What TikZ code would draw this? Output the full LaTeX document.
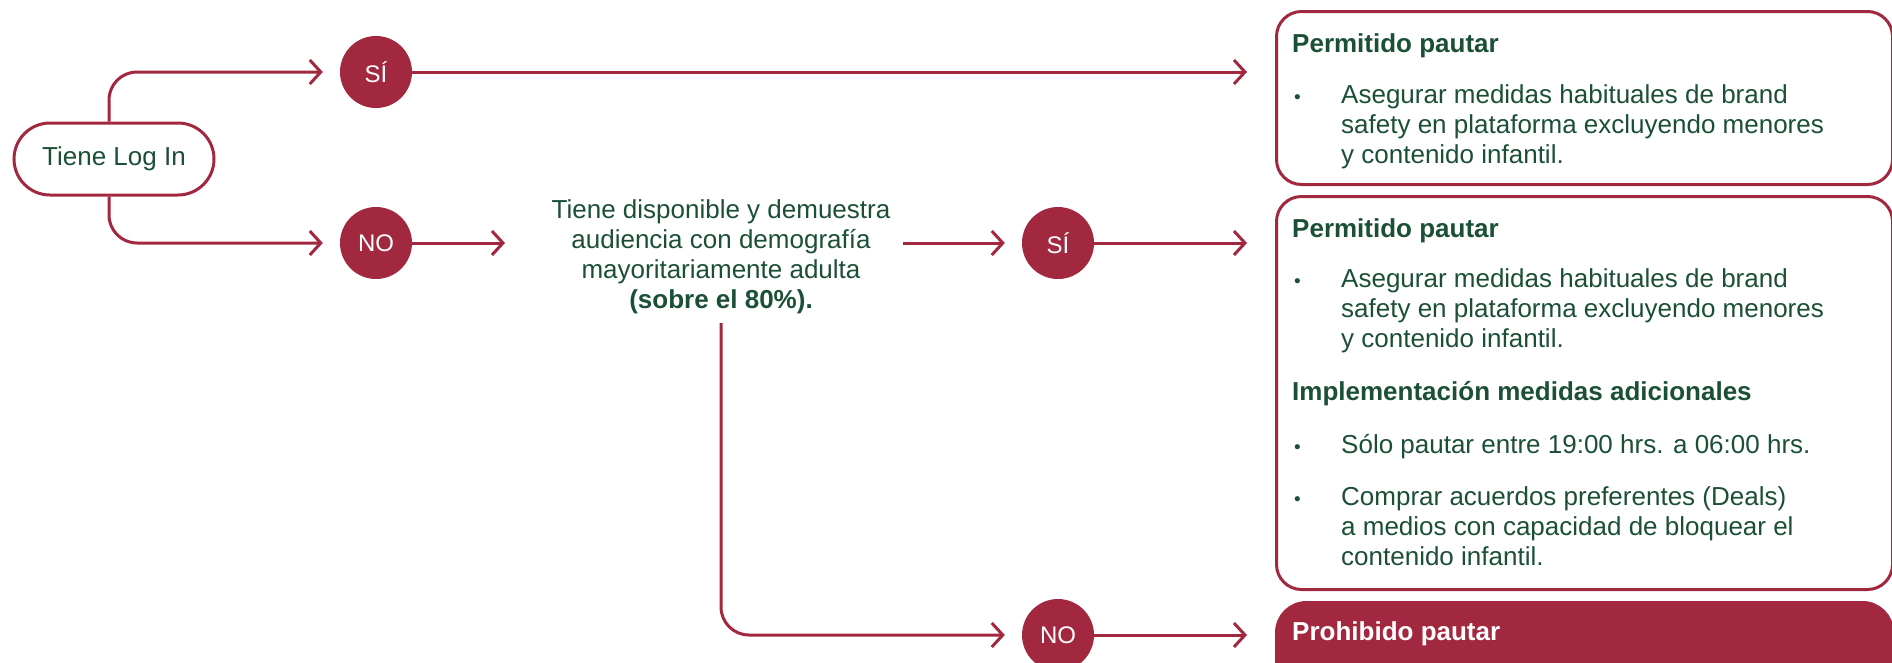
\documentclass[tikz,border=0pt]{standalone}
\usepackage{fontspec}
\setmainfont{Liberation Sans}
\usetikzlibrary{arrows.meta}

\definecolor{vino}{HTML}{A22840}
\definecolor{verde}{HTML}{1B4F36}
\newcommand{\bul}{\makebox[49pt][l]{\hspace*{2pt}{\fontsize{19}{19}\selectfont\textbullet}}}
\newcommand{\ind}{\hspace*{49pt}}

\begin{document}
\begin{tikzpicture}[x=1pt, y=-1pt,
	every node/.style={font=\fontsize{26}{30}\selectfont},
	flow/.style={draw=vino, line width=3pt, -{Straight Barb[length=11pt,width=24pt]}},
	pill/.style={draw=vino, line width=3pt, rounded corners=36pt, minimum width=200pt, minimum height=72pt, text=verde},
	dot/.style={circle, fill=vino, minimum size=72pt, inner sep=0pt, text=white, font=\fontsize{24}{28}\selectfont},
	okbox/.style={draw=vino, line width=3pt, rounded corners=25pt, anchor=north west, minimum width=616pt},
	txt/.style={anchor=base west, align=left, inner sep=0pt, text=verde}]
	\useasboundingbox (0,0) rectangle (1892,662);
	% Nodes
	\node[pill] (login) at (114,159) {Tiene Log In};
	\node[dot] (si1) at (376,72) {SÍ};
	\node[dot] (no1) at (376,243) {NO};
	\node[anchor=base, align=center, inner sep=0pt, text=verde] (ask) at (721,308) {Tiene disponible y demuestra\\audiencia con demografía\\mayoritariamente adulta\\\textbf{(sobre el 80\%).}};
	\node[dot] (si2) at (1058,243) {SÍ};
	\node[dot] (no2) at (1058,635) {NO};
	% Boxes
	\node[okbox, minimum height=173pt] (ok1) at (1275,10) {};
	\node[okbox, minimum height=393pt] (ok2) at (1275,195) {};
	\node[okbox, fill=vino, rounded corners=30pt, minimum height=90pt] (ko) at (1275,601) {};
	\node[txt] (ok1txt) at (1292,163) {\textbf{Permitido pautar}\\[21pt]
		\bul Asegurar medidas habituales de brand\\
		\ind safety en plataforma excluyendo menores\\
		\ind y contenido infantil.};
	\node[txt] (ok2txt) at (1292,565) {\textbf{Permitido pautar}\\[20pt]
		\bul Asegurar medidas habituales de brand\\
		\ind safety en plataforma excluyendo menores\\
		\ind y contenido infantil.\\[23pt]
		\textbf{Implementación medidas adicionales}\\[23pt]
		\bul Sólo pautar entre 19:00 hrs. a 06:00 hrs.\\[22pt]
		\bul Comprar acuerdos preferentes (Deals)\\
		\ind a medios con capacidad de bloquear el\\
		\ind contenido infantil.};
	\node[txt, text=white, font=\fontsize{26}{30}\selectfont\bfseries] (kotxt) at (1292,640) {Prohibido pautar};
	% Free ends
	\coordinate (askin) at (505,243);
	\coordinate (askout) at (903,243);
	\coordinate (askdown) at (721,323);
	% Edges
	\draw[flow, rounded corners=28pt, shorten >=17pt] ([xshift=-5pt]login.north) |- (si1);
	\draw[flow, rounded corners=28pt, shorten >=17pt] ([xshift=-5pt]login.south) |- (no1);
	\draw[flow, shorten >=28pt] (si1) -- (si1 -| ok1.west);
	\draw[flow] (no1) -- (askin);
	\draw[flow, shorten >=17pt] (askout) -- (si2);
	\draw[flow, shorten >=28pt] (si2) -- (si2 -| ok2.west);
	\draw[flow, rounded corners=28pt, shorten >=17pt] (askdown) |- (no2);
	\draw[flow, shorten >=28pt] (no2) -- (no2 -| ko.west);
\end{tikzpicture}
\end{document}
